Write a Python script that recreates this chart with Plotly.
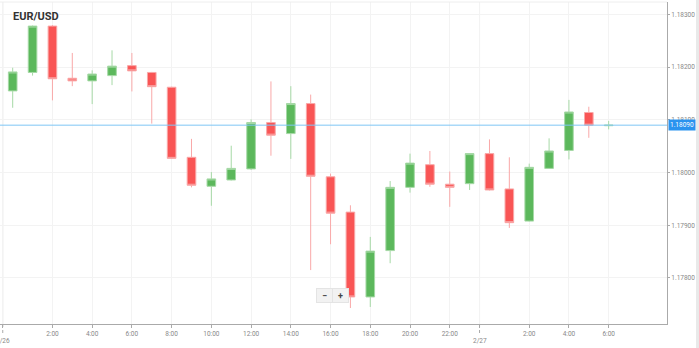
import plotly.graph_objects as go

# hours since 2/26 00:00
hours = list(range(31))
opens = [1.18155, 1.18190, 1.18278, 1.18179, 1.18174, 1.18184, 1.18203, 1.18190,
         1.18162, 1.18029, 1.17974, 1.17986, 1.18007, 1.18095, 1.18074, 1.18131,
         1.17992, 1.17925, 1.17764, 1.17852, 1.17972, 1.18015, 1.17978, 1.17979,
         1.18036, 1.17969, 1.17908, 1.18008, 1.18042, 1.18114, 1.18089]
highs = [1.18199, 1.18279, 1.18280, 1.18227, 1.18194, 1.18232, 1.18227, 1.18191,
         1.18163, 1.18064, 1.18001, 1.18051, 1.18101, 1.18173, 1.18164, 1.18148,
         1.17998, 1.17938, 1.17878, 1.17984, 1.18036, 1.18041, 1.18002, 1.18037,
         1.18063, 1.18029, 1.18017, 1.18065, 1.18138, 1.18125, 1.18098]
lows = [1.18123, 1.18184, 1.18137, 1.18164, 1.18130, 1.18166, 1.18154, 1.18093,
        1.18026, 1.17972, 1.17937, 1.17985, 1.18005, 1.18032, 1.18026, 1.17815,
        1.17864, 1.17743, 1.17745, 1.17828, 1.17962, 1.17973, 1.17935, 1.17967,
        1.17966, 1.17895, 1.17907, 1.18007, 1.18025, 1.18066, 1.18082]
closes = [1.18191, 1.18278, 1.18178, 1.18174, 1.18187, 1.18202, 1.18193, 1.18163,
          1.18027, 1.17976, 1.17988, 1.18008, 1.18095, 1.18071, 1.18131, 1.17993,
          1.17923, 1.17764, 1.17851, 1.17972, 1.18018, 1.17978, 1.17972, 1.18036,
          1.17967, 1.17905, 1.18010, 1.18041, 1.18115, 1.18090, 1.18090]

current_price = 1.18090
title_text = "EUR/USD"

tick_hours = [-0.5, 2, 4, 6, 8, 10, 12, 14, 16, 18, 20, 22, 23.5, 26, 28, 30]
tick_labels = ["", "2:00", "4:00", "6:00", "8:00", "10:00", "12:00", "14:00",
               "16:00", "18:00", "20:00", "22:00", "", "2:00", "4:00", "6:00"]
date_breaks = [-0.5, 23.5]
date_labels = ["2/26", "2/27"]
y_ticks = [1.178, 1.179, 1.180, 1.181, 1.182, 1.183]

FONT = "Roboto"

fig = go.Figure()
fig.add_trace(go.Candlestick(
    x=hours, open=opens, high=highs, low=lows, close=closes,
    increasing=dict(fillcolor="#5cb85c", line=dict(color="#a6d9a6", width=1)),
    decreasing=dict(fillcolor="#f95555", line=dict(color="#f9a8a8", width=1)),
    whiskerwidth=0, hoverinfo="skip", showlegend=False,
))

shapes = []
annotations = []
for d, lab in zip(date_breaks, date_labels):
    shapes.append(dict(type="line", xref="x", yref="paper", x0=d, x1=d, y0=0, y1=1,
                       line=dict(color="#dedede", width=1), layer="below"))
    shapes.append(dict(type="line", xref="x", yref="paper", x0=d, x1=d, y0=0, y1=-0.03,
                       line=dict(color="#aaaaaa", width=1, dash="dot")))
    annotations.append(dict(text=lab, xref="x", yref="paper", x=d, y=-0.054,
                            xanchor="center", yanchor="middle", showarrow=False,
                            font=dict(family=FONT, size=6.5, color="#888888")))
shapes.append(dict(type="line", xref="paper", yref="y", x0=0, x1=1,
                   y0=current_price, y1=current_price,
                   line=dict(color="#7fc6f5", width=1)))
# right edge strip
shapes.append(dict(type="rect", xref="paper", yref="paper", x0=1.0435, x1=1.052,
                   y0=-0.08, y1=1.01, line=dict(width=0), fillcolor="#e9e9e9"))
shapes.append(dict(type="line", xref="paper", yref="paper", x0=0, x1=1, y0=1, y1=1,
                   line=dict(color="#eeeeee", width=1)))

annotations += [
    dict(text="<b>" + title_text + "</b>", xref="paper", yref="paper", x=0.017, y=0.955,
         xanchor="left", yanchor="middle", showarrow=False,
         font=dict(family=FONT, size=11, color="#333333")),
    dict(text=f"{current_price:.5f}", xref="paper", yref="y", x=1.0, y=current_price,
         xanchor="left", yanchor="middle", showarrow=False, xshift=1,
         bgcolor="#2a93ef", borderpad=1, font=dict(family=FONT, size=6.5, color="white")),
    dict(text="<b>−</b>", xref="paper", yref="paper", x=0.4865, y=0.0875,
         xanchor="center", yanchor="middle", showarrow=False, width=13, height=11,
         bgcolor="#f2f2f2", bordercolor="#e4e4e4", borderwidth=1,
         font=dict(family=FONT, size=9, color="#444444")),
    dict(text="<b>+</b>", xref="paper", yref="paper", x=0.5100, y=0.0875,
         xanchor="center", yanchor="middle", showarrow=False, width=13, height=11,
         bgcolor="#f2f2f2", bordercolor="#e4e4e4", borderwidth=1,
         font=dict(family=FONT, size=9, color="#444444")),
]

fig.update_layout(
    width=699, height=348,
    margin=dict(l=0, r=32, t=2, b=24),
    paper_bgcolor="white", plot_bgcolor="white",
    font=dict(family=FONT, size=6.5, color="#888888"),
    boxgap=0.38,
    shapes=shapes, annotations=annotations,
    xaxis=dict(range=[-0.639, 32.936], rangeslider=dict(visible=False),
               tickvals=tick_hours, ticktext=tick_labels,
               showgrid=True, gridcolor="#f3f3f3", gridwidth=1,
               showline=True, linecolor="#aaaaaa", linewidth=1,
               ticks="outside", ticklen=3, tickcolor="#aaaaaa",
               tickfont=dict(family=FONT, size=6.5, color="#888888"),
               zeroline=False, fixedrange=True),
    yaxis=dict(range=[1.177127, 1.183237], side="right",
               tickvals=y_ticks, tickformat=".5f",
               showgrid=True, gridcolor="#f3f3f3", gridwidth=1,
               showline=True, linecolor="#aaaaaa", linewidth=1,
               ticks="outside", ticklen=2, tickcolor="#aaaaaa",
               tickfont=dict(family=FONT, size=6.5, color="#888888"),
               zeroline=False, fixedrange=True),
)

fig.write_html("out.html", config=dict(displayModeBar=False))
